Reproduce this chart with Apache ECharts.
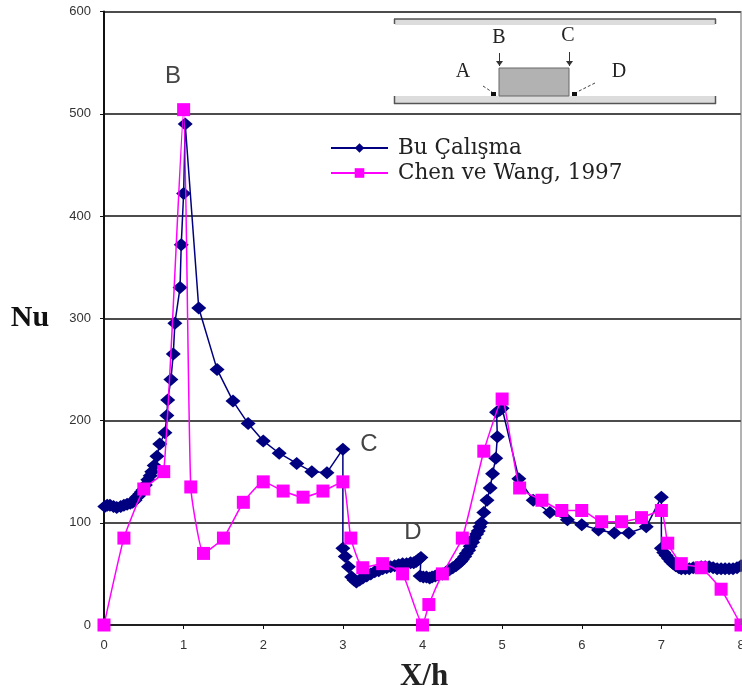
<!DOCTYPE html>
<html><head><meta charset="utf-8">
<style>html,body{margin:0;padding:0;background:#fff}#c{width:742px;height:693px;filter:blur(0.4px)}</style>
<script src="https://cdn.jsdelivr.net/npm/echarts@6/dist/echarts.min.js"></script>
</head><body><div id="c"></div>
<script>
const xTicks = [0,1,2,3,4,5,6,7,8];
const yTicks = [0,100,200,300,400,500,600];
const seriesNames = ['Bu Çalışma','Chen ve Wang, 1997'];
const blueX = [0.01,0.04,0.075,0.12,0.16,0.21,0.25,0.29,0.33,0.36,0.39,0.41,0.43,0.45,0.47,0.49,0.52,0.55,0.58,0.6,0.63,0.665,0.7,0.765,0.79,0.8,0.84,0.87,0.89,0.955,0.97,1.0,1.02,1.19,1.42,1.62,1.81,2.0,2.2,2.42,2.61,2.8,3.0,3.0,3.03,3.07,3.11,3.14,3.17,3.21,3.25,3.3,3.35,3.4,3.45,3.5,3.55,3.6,3.65,3.7,3.75,3.8,3.85,3.89,3.92,3.95,3.98,3.97,4.01,4.05,4.09,4.12,4.16,4.2,4.25,4.3,4.34,4.38,4.42,4.45,4.48,4.5,4.53,4.55,4.58,4.6,4.63,4.65,4.68,4.7,4.72,4.74,4.77,4.81,4.85,4.88,4.92,4.94,4.93,4.97,5.0,5.21,5.39,5.6,5.82,6.0,6.21,6.41,6.59,6.81,7.0,7.0,7.03,7.06,7.09,7.12,7.15,7.18,7.22,7.25,7.3,7.35,7.4,7.45,7.5,7.55,7.6,7.65,7.7,7.75,7.8,7.85,7.9,7.95,8.0];
const blueY = [116,117,117,116,115,116,117,118,119,120,122,125,126,128,130,132,137,142,146,150,156,165,177,188,205,220,240,265,295,330,372,422,490,310,250,219,197,180,168,158,150,149,172,75,67,57,47,44,42,44,46,48,50,52,53,55,56,57,58,59,60,60,61,61,62,64,66,48,47,47,46,47,48,49,50,52,54,56,58,60,62,64,67,70,73,77,81,85,89,92,96,100,110,122,134,148,163,184,208,210,212,143,122,110,103,98,93,90,90,96,125,75,71,68,65,62,60,58,56,55,55,55,56,56,57,57,57,56,55,55,55,55,55,56,58];
const pinkX = [0,0.25,0.5,0.75,1.0,1.09,1.25,1.5,1.75,2.0,2.25,2.5,2.75,3.0,3.1,3.25,3.5,3.75,4.0,4.08,4.25,4.5,4.77,5.0,5.22,5.5,5.75,6.0,6.25,6.5,6.75,7.0,7.08,7.25,7.5,7.75,8.0];
const pinkY = [0,85,133,150,504,135,70,85,120,140,131,125,131,140,85,56,60,50,0,20,50,85,170,221,134,122,112,112,101,101,105,112,80,60,56,35,0];

const zip = (a,b)=>a.map((v,i)=>[v,b[i]]);
const serif = '"Liberation Serif","DejaVu Serif",serif';
const dserif = '"DejaVu Serif","Liberation Serif",serif';
const sans = '"Liberation Sans",Arial,sans-serif';
const NAVY='#000080', PINK='#ff00ff';
const txt=(t,x,y,size,fam,col,w)=>({type:'text',z:20,style:{text:t,x,y,fill:col,font:(w||'normal')+' '+size+'px '+fam,textAlign:'center',textVerticalAlign:'middle'}});
const ln=(x1,y1,x2,y2,col,w,dash)=>({type:'line',z:20,shape:{x1,y1,x2,y2},style:{stroke:col,lineWidth:w,lineDash:dash||null}});
const rc=(x,y,w,h,fill,stroke,lw)=>({type:'rect',z:19,shape:{x,y,width:w,height:h},style:{fill,stroke,lineWidth:lw||0}});

const graphics=[
  txt('B',173,76,24,sans,'#444'),
  txt('C',369,444,24,sans,'#444'),
  txt('D',413,532,24,sans,'#444'),
  txt('Nu',30,318,30,serif,'#111','bold'),
  txt('X/h',424,677,31,serif,'#222','bold'),
  // inset schematic
  rc(395,19,320,6,'#dcdcdc',null),
  ln(394.5,24,394.5,19,'#555',1.5), ln(394,19,716,19,'#555',1.5), ln(715.5,19,715.5,24,'#555',1.5),
  rc(395,96,320,8,'#dcdcdc',null),
  ln(394.5,96,394.5,104,'#555',1.5), ln(394,103.5,716,103.5,'#555',1.5), ln(715.5,96,715.5,104,'#555',1.5),
  rc(499,68,70,28,'#b2b2b2','#666',1),
  txt('B',499,38,20,serif,'#222'), txt('C',568,36,20,serif,'#222'),
  txt('A',463,72,20,serif,'#222'), txt('D',619,72,20,serif,'#222'),
  ln(499.5,53,499.5,66,'#333',1), ln(569.5,52,569.5,66,'#333',1),
  {type:'polygon',z:20,shape:{points:[[496,61],[503,61],[499.5,66]]},style:{fill:'#333'}},
  {type:'polygon',z:20,shape:{points:[[566,61],[573,61],[569.5,66]]},style:{fill:'#333'}},
  ln(483,86,492,92,'#444',1,[3,2]), ln(595,83,577,92,'#444',1,[3,2]),
  rc(491,92,5,4,'#111',null), rc(572,92,5,4,'#111',null),
  ln(741,11,741,625,'#666',1)
];

const chart = echarts.init(document.getElementById('c'),null,{renderer:'canvas'});
chart.setOption({
  animation:false,
  backgroundColor:'#fff',
  grid:{left:104,right:1,top:11.5,bottom:68,containLabel:false,outerBoundsMode:'none'},
  xAxis:{type:'value',min:xTicks[0],max:xTicks[xTicks.length-1],interval:1,
    axisLine:{show:true,onZero:false,lineStyle:{color:'#111',width:1.5}},
    axisTick:{show:true,length:4,lineStyle:{color:'#111',width:1}},
    axisLabel:{margin:14,fontSize:13,color:'#333',fontFamily:sans},splitLine:{show:false}},
  yAxis:{type:'value',min:yTicks[0],max:yTicks[yTicks.length-1],interval:100,
    axisLine:{show:true,lineStyle:{color:'#111',width:2}},
    axisTick:{show:true,length:4,lineStyle:{color:'#111',width:1}},
    axisLabel:{margin:13,fontSize:13,color:'#333',fontFamily:sans},
    splitLine:{show:true,lineStyle:{color:'#111',width:1.5}}},
  legend:{show:true,left:330,top:137,padding:0,orient:'vertical',itemWidth:57,itemHeight:12,itemGap:3,
    textStyle:{fontFamily:dserif,fontSize:21.5,color:'#222',padding:[0,0,0,5]},
    data:[{name:seriesNames[0]},{name:seriesNames[1]}]},
  series:[
    {name:seriesNames[0],type:'line',data:zip(blueX,blueY),smooth:false,clip:false,
      symbol:'diamond',symbolSize:[15,13],itemStyle:{color:NAVY},lineStyle:{color:NAVY,width:1.5},z:3},
    {name:seriesNames[1],type:'line',data:zip(pinkX,pinkY),smooth:0.15,clip:false,
      symbol:'rect',symbolSize:13,itemStyle:{color:PINK},lineStyle:{color:PINK,width:1.5},z:4}
  ],
  graphic:graphics
});
</script></body></html>
